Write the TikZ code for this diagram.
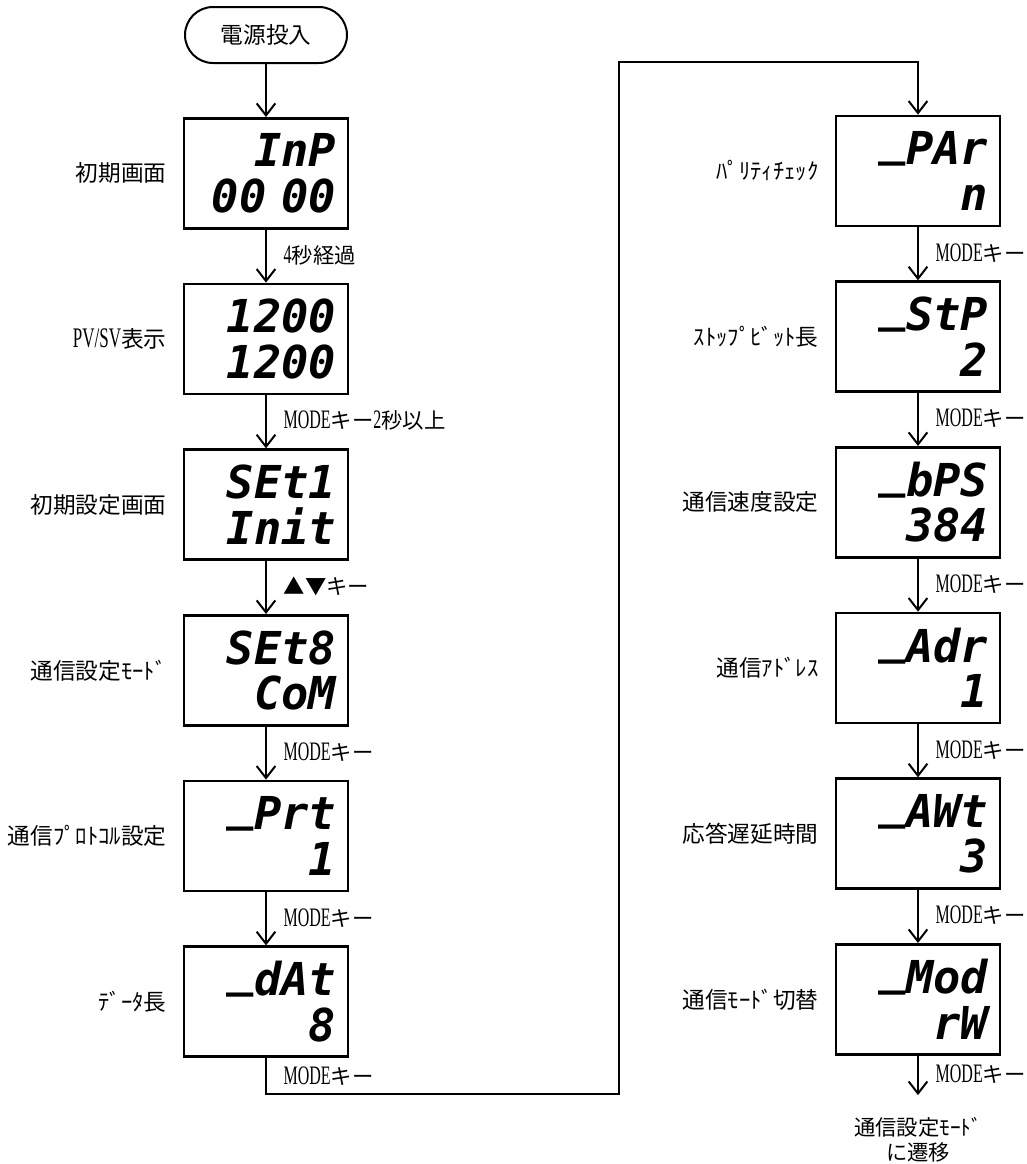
\documentclass[tikz,border=0pt]{standalone}
\usepackage{fontspec}
\usetikzlibrary{arrows.meta,positioning}
\setmainfont{Noto Sans CJK JP}
\newfontfamily\lat[Scale=1.25,FakeStretch=0.6]{Liberation Serif}
\newfontfamily\seg{DejaVu Sans Mono}
\newcommand\segbar{\raisebox{.2em}{\_}}
\tikzset{
  start/.style={draw,line width=1.5pt,rounded corners=21pt,minimum width=121.5pt,minimum height=42pt,font=\fontsize{17}{20}\selectfont},
  disp/.style={draw,line width=2pt,minimum width=123pt,minimum height=82.5pt,inner xsep=9pt,text width=105pt,align=right,font=\seg\bfseries\itshape\fontsize{34}{34}\selectfont},
  nlbl/.style={inner sep=0pt,font=\fontsize{17}{20}\selectfont},
  elbl/.style={anchor=west,inner sep=0pt,xshift=12.5pt,pos=.48,font=\fontsize{16}{18}\selectfont},
  arrow/.style={-{Straight Barb[length=9pt,width=14pt]},line width=1.5pt},
}
\begin{document}
\begin{tikzpicture}[x=1pt,y=1pt,node distance=39.75pt]
  \useasboundingbox (0,0) rectangle (769.5,-873);
  % left column
  \node[start] (pwr) at (199.5,-26.25) {電源投入};
  \node[disp,below=of pwr] (inp) {InP\\00 00};
  \node[disp,below=of inp] (pvsv) {1200\\1200};
  \node[disp,below=of pvsv] (set1) {SEt1\\Init};
  \node[disp,below=of set1] (set8) {SEt8\\CoM};
  \node[disp,below=of set8] (prt) {\segbar Prt\\1};
  \node[disp,below=of prt] (dat) {\segbar dAt\\8};
  % right column
  \node[disp] (par) at (688.5,-128.25) {\segbar PAr\\n};
  \node[disp,below=of par] (stp) {\segbar StP\\2};
  \node[disp,below=of stp] (bps) {\segbar bPS\\384};
  \node[disp,below=of bps] (adr) {\segbar Adr\\1};
  \node[disp,below=of adr] (awt) {\segbar AWt\\3};
  \node[disp,below=of awt] (mod) {\segbar Mod\\rW};
  \node[nlbl,align=center,font=\fontsize{16}{19}\selectfont] (back) at (688.5,-855) {通信設定ﾓｰﾄﾞ\\に遷移};
  % names
  \node[nlbl,left=12pt of inp] (inp-l) {初期画面};
  \node[nlbl,left=12pt of pvsv] (pvsv-l) {{\lat PV/SV}表示};
  \node[nlbl,left=12pt of set1] (set1-l) {初期設定画面};
  \node[nlbl,left=12pt of set8] (set8-l) {通信設定ﾓｰﾄﾞ};
  \node[nlbl,left=12pt of prt] (prt-l) {通信ﾌﾟﾛﾄｺﾙ設定};
  \node[nlbl,left=12pt of dat] (dat-l) {ﾃﾞｰﾀ長};
  \node[nlbl,left=12pt of par] (par-l) {ﾊﾟﾘﾃｨﾁｪｯｸ};
  \node[nlbl,left=12pt of stp] (stp-l) {ｽﾄｯﾌﾟﾋﾞｯﾄ長};
  \node[nlbl,left=12pt of bps] (bps-l) {通信速度設定};
  \node[nlbl,left=12pt of adr] (adr-l) {通信ｱﾄﾞﾚｽ};
  \node[nlbl,left=12pt of awt] (awt-l) {応答遅延時間};
  \node[nlbl,left=12pt of mod] (mod-l) {通信ﾓｰﾄﾞ切替};
  % arrows
  \draw[arrow] (pwr) -- (inp);
  \draw[arrow] (inp) -- node[elbl]{{\lat 4}秒経過} (pvsv);
  \draw[arrow] (pvsv) -- node[elbl]{{\lat MODE}キー{\lat 2}秒以上} (set1);
  \draw[arrow] (set1) -- node[elbl]{▲▼キー} (set8);
  \draw[arrow] (set8) -- node[elbl]{{\lat MODE}キー} (prt);
  \draw[arrow] (prt) -- node[elbl]{{\lat MODE}キー} (dat);
  \coordinate (turnB) at (464.25,-820.5);
  \coordinate (turnT) at (464.25,-46.5);
  \draw[arrow] (dat) |- node[elbl,pos=.25]{{\lat MODE}キー} (turnB) -- (turnT) -| (par);
  \draw[arrow] (par) -- node[elbl]{{\lat MODE}キー} (stp);
  \draw[arrow] (stp) -- node[elbl]{{\lat MODE}キー} (bps);
  \draw[arrow] (bps) -- node[elbl]{{\lat MODE}キー} (adr);
  \draw[arrow] (adr) -- node[elbl]{{\lat MODE}キー} (awt);
  \draw[arrow] (awt) -- node[elbl]{{\lat MODE}キー} (mod);
  \draw[arrow,shorten >=16.5pt] (mod) -- node[elbl,pos=.3]{{\lat MODE}キー} (back);
\end{tikzpicture}
\end{document}
